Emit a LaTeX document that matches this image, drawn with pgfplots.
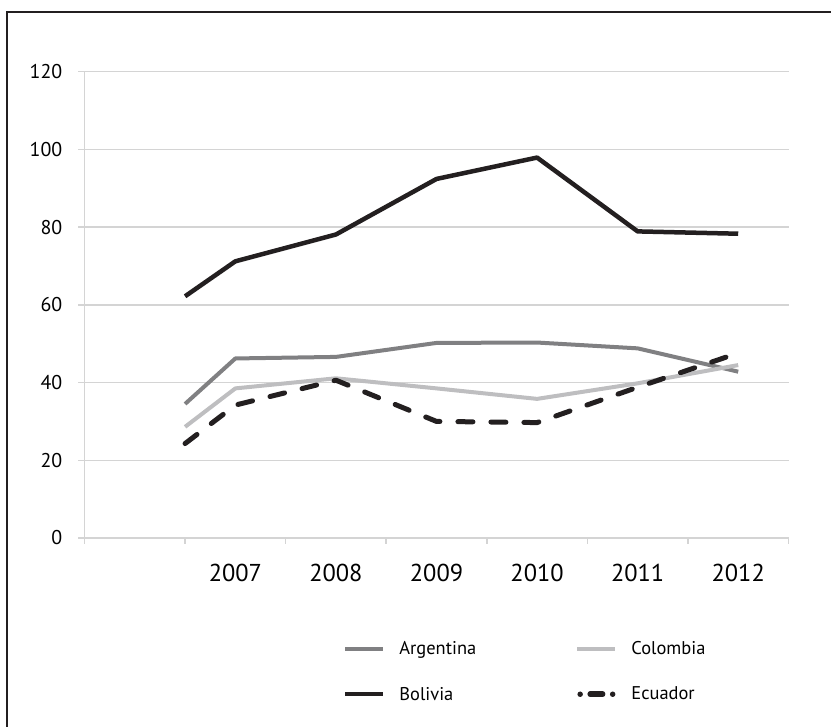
\documentclass[border=0pt]{standalone}
\usepackage{pgfplots}
\pgfplotsset{compat=1.18}
\usepackage{fontspec}
\setmainfont{PT Sans}
\definecolor{gridgray}{RGB}{212,212,212}
\definecolor{argc}{RGB}{128,128,130}
\definecolor{colc}{RGB}{190,190,192}
\definecolor{bolc}{RGB}{35,31,32}
\begin{document}
\begin{tikzpicture}[x=1bp,y=1bp]
\path[use as bounding box] (0,0) rectangle (831,727);
\draw[bolc, line width=2.5bp] (7,-10) -- (7,715) -- (850,715);
\begin{axis}[
  at={(84.5bp,189bp)}, anchor=south west,
  scale only axis, width=704bp, height=466.3bp,
  xmin=0, xmax=7, ymin=0, ymax=120,
  axis x line=bottom, axis y line=left,
  axis line style={gridgray, line width=1.5bp, -},
  ytick={0,20,...,120},
  xtick={0,...,7}, xticklabels={},
  extra x ticks={1.5,2.5,...,6.5},
  extra x tick labels={2007,2008,2009,2010,2011,2012},
  extra x tick style={major tick length=0pt,
    tick label style={font=\fontsize{24.5}{24.5}\selectfont, anchor=base, inner sep=0pt, yshift=-44bp}},
  tick style={gridgray, line width=1.5bp},
  tick align=outside, major tick length=6bp,
  ymajorgrids, grid style={gridgray, line width=1.5bp},
  yticklabel style={font=\fontsize{20}{20}\selectfont, anchor=east, inner sep=0pt, xshift=-16bp},
  /pgf/number format/assume math mode=true,
  legend columns=2,
  legend cell align=left,
  legend style={draw=none, fill=none, inner sep=0pt, at={(0.3668,-0.217)}, anchor=north west,
    font=\fontsize{18.5}{18.5}\selectfont, row sep=27bp,
    /tikz/every odd column/.append style={column sep=12bp}},
  legend image code/.code={\draw[#1] (0bp,0bp) -- (38bp,0bp);},
  every axis plot/.append style={line join=round},
]
\addplot[argc, line width=4bp] coordinates {(1,34.5)(1.5,46.2)(2.5,46.6)(3.5,50.2)(4.5,50.3)(5.5,48.8)(6.5,42.8)};
\addlegendentry{\makebox[174bp][l]{Argentina}}
\addplot[colc, line width=4bp] coordinates {(1,28.6)(1.5,38.5)(2.5,41.1)(3.5,38.5)(4.5,35.8)(5.5,39.8)(6.5,44.5)};
\addlegendentry{Colombia}
\addplot[bolc, line width=4.5bp] coordinates {(1,62.2)(1.5,71.2)(2.5,78.1)(3.5,92.4)(4.5,97.9)(5.5,78.9)(6.5,78.3)};
\addlegendentry{Bolivia}
\addplot[bolc, line width=5bp, line cap=round, dash pattern=on 15bp off 18bp,
  legend image code/.code={\draw[bolc, line width=5.5bp, line cap=round, dash pattern=on 0bp off 10bp on 12.5bp off 10bp on 0bp off 100bp] (2.75bp,0bp) -- (35.5bp,0bp);}]
  coordinates {(1,24.3)(1.5,34.2)(2.5,40.6)(3.5,30.0)(4.5,29.7)(5.5,38.8)(6.5,47.6)};
\addlegendentry{Ecuador}
\end{axis}
\end{tikzpicture}
\end{document}
